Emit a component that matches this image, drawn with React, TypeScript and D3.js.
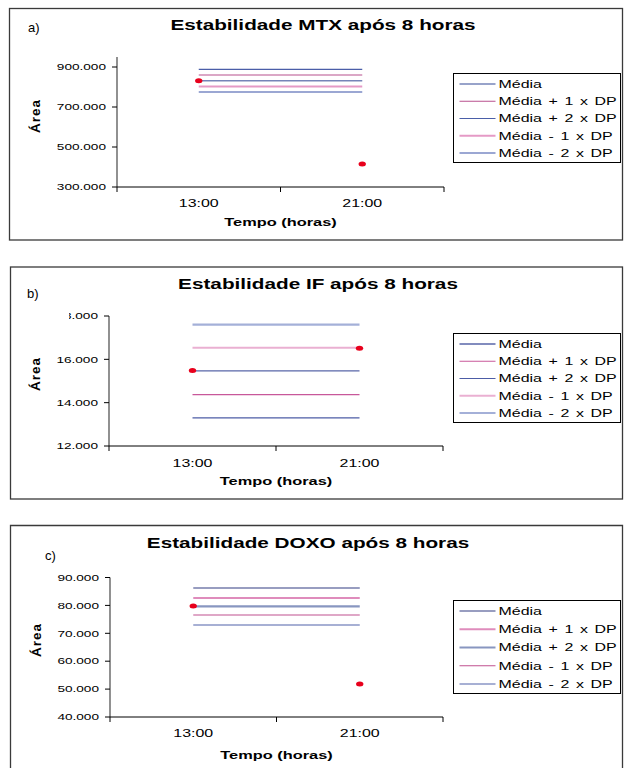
import React from 'react';
import * as d3 from 'd3';

// ---------- data ----------
const categories = ['13:00', '21:00'];
const seriesNames = ['Média', 'Média + 1 x DP', 'Média + 2 x DP', 'Média - 1 x DP', 'Média - 2 x DP'];

const mtxTitle = 'Estabilidade MTX após 8 horas';
const mtxLevels = [831500, 860000, 888500, 803000, 775000];
const mtxPoints = [831000, 415000];
const mtxTicks = [300000, 500000, 700000, 900000];
const mtxDomain = [300000, 950000];

const ifTitle = 'Estabilidade IF após 8 horas';
const ifLevels = [15470, 14370, 13300, 16540, 17600];
const ifPoints = [15490, 16510];
const ifTicks = [12000, 14000, 16000, 18000];
const ifDomain = [12000, 18000];

const doxoTitle = 'Estabilidade DOXO após 8 horas';
const doxoLevels = [86240, 82650, 79640, 76560, 72980];
const doxoPoints = [79780, 51830];
const doxoTicks = [40000, 50000, 60000, 70000, 80000, 90000];
const doxoDomain = [40000, 90000];

// ---------- styles / layout ----------
const mtxColors = ['#7684b8', '#b8508e', '#4a5ea8', '#e59ac6', '#7a8ac4'];
const mtxWidths = [1.5, 1.2, 1.2, 2, 1.6];
const ifColors = ['#5866a8', '#c8589a', '#4c5ca6', '#eab0d2', '#a4b0d8'];
const ifWidths = [1.3, 1.2, 1.2, 2, 2.2];
const doxoColors = ['#333d82', '#df8cbc', '#8896c0', '#c0508f', '#5062aa'];
const doxoWidths = [1.2, 1.8, 2.2, 1.2, 1.2];

const loc = d3.formatLocale({ decimal: ',', thousands: '.', grouping: [3], currency: ['', ''] });
const fmt = loc.format(',');

const SX = 1.45;
const FONT = '"Liberation Sans", Arial, Helvetica, sans-serif';

function SText(props: any) {
  const { x, y, size, weight, anchor, children, ws } = props;
  return (
    <g transform={`translate(${x},${y}) scale(${SX},1)`}>
      <text
        textAnchor={anchor || 'start'}
        fontSize={size}
        fontWeight={weight || 'normal'}
        dy="0.35em"
        fill="#000"
        style={{ wordSpacing: ws || 0, whiteSpace: 'pre' }}
      >
        {children}
      </text>
    </g>
  );
}

const panels = [
  {
    id: 'a', label: 'a)', title: mtxTitle, levels: mtxLevels, points: mtxPoints, ticks: mtxTicks, domain: mtxDomain,
    colors: mtxColors, widths: mtxWidths,
    box: { x: 9, y: 8, w: 613, h: 231.5, bottom: true },
    titleX: 323, titleY: 25, labX: 28, labY: 27,
    ax: 117, axR: 444, yTop: 57, yBot: 187,
    catY: 203, xTitleY: 222, yTitleX: 35, yTitleY: 116,
    leg: { x: 453.5, y: 73.5, w: 167, h: 89 },
    clipTop: 0,
  },
  {
    id: 'b', label: 'b)', title: ifTitle, levels: ifLevels, points: ifPoints, ticks: ifTicks, domain: ifDomain,
    colors: ifColors, widths: ifWidths,
    box: { x: 10, y: 266.5, w: 612, h: 232, bottom: true },
    titleX: 318, titleY: 284, labX: 27, labY: 293,
    ax: 109, axR: 443, yTop: 316, yBot: 446,
    catY: 463, xTitleY: 481, yTitleX: 35, yTitleY: 374,
    leg: { x: 453.5, y: 333.5, w: 167, h: 89 },
    clipTop: 69,
  },
  {
    id: 'c', label: 'c)', title: doxoTitle, levels: doxoLevels, points: doxoPoints, ticks: doxoTicks, domain: doxoDomain,
    colors: doxoColors, widths: doxoWidths,
    box: { x: 10, y: 525, w: 612, h: 300, bottom: false },
    titleX: 308, titleY: 543, labX: 45, labY: 555,
    ax: 110, axR: 443, yTop: 577.5, yBot: 717,
    catY: 733, xTitleY: 755, yTitleX: 36, yTitleY: 640,
    leg: { x: 453.5, y: 600.5, w: 167, h: 93 },
    clipTop: 0,
  },
];

function Panel({ p }: any) {
  const y = d3.scaleLinear().domain(p.domain).range([p.yBot, p.yTop]);
  const x = d3.scaleBand().domain(categories).range([p.ax, p.axR]).paddingInner(0).paddingOuter(0);
  const cx = (c: string) => (x(c) as number) + x.bandwidth() / 2;
  const x0 = cx(categories[0]);
  const x1 = cx(categories[categories.length - 1]);
  const xTicks = [p.ax, ...categories.slice(1).map((c) => x(c) as number), p.axR];
  const line = d3.line<[number, number]>().x((d) => d[0]).y((d) => d[1]);
  const b = p.box;
  const rowH = (p.leg.h - 20) / 4;
  const topTick = p.ticks[p.ticks.length - 1];
  return (
    <g>
      {b.bottom ? (
        <rect x={b.x + 0.5} y={b.y + 0.5} width={b.w} height={b.h} fill="none" stroke="#3a3a3a" strokeWidth={1.3} />
      ) : (
        <path d={`M${b.x + 0.5},${b.y + b.h} V${b.y + 0.5} H${b.x + b.w + 0.5} V${b.y + b.h}`} fill="none" stroke="#3a3a3a" strokeWidth={1.3} />
      )}
      <text x={p.labX} y={p.labY} dy="0.35em" fontSize={13} fontFamily={'"Liberation Sans Narrow", "Liberation Sans", Arial'}>{p.label}</text>
      <SText x={p.titleX} y={p.titleY} size={14.3} weight="bold" anchor="middle">{p.title}</SText>

      {/* y axis */}
      <defs>
        <clipPath id={`clip-${p.id}`}>
          <rect x={p.clipTop} y={0} width={700} height={800} />
        </clipPath>
      </defs>
      <line x1={p.ax} x2={p.ax} y1={p.yTop} y2={p.yBot} stroke="#555" strokeWidth={1.3} />
      {p.ticks.map((t: number) => (
        <g key={t}>
          <line x1={p.ax - 5} x2={p.ax} y1={y(t)} y2={y(t)} stroke="#000" strokeWidth={1} />
          <g clipPath={t === topTick && p.clipTop ? `url(#clip-${p.id})` : undefined}>
            <SText x={p.ax - 11} y={y(t)} size={9.4} anchor="end">{fmt(t)}</SText>
          </g>
        </g>
      ))}
      {/* x axis */}
      <line x1={p.ax} x2={p.axR} y1={p.yBot} y2={p.yBot} stroke="#000" strokeWidth={1} />
      {xTicks.map((t: number, i: number) => (
        <line key={i} x1={t} x2={t} y1={p.yBot} y2={p.yBot + 5} stroke="#000" strokeWidth={1} />
      ))}
      {categories.map((c) => (
        <SText key={c} x={cx(c)} y={p.catY} size={11} anchor="middle">{c}</SText>
      ))}
      <SText x={(p.ax + p.axR) / 2} y={p.xTitleY} size={11.3} weight="bold" anchor="middle">Tempo (horas)</SText>
      <text
        transform={`translate(${p.yTitleX},${p.yTitleY}) rotate(-90)`}
        textAnchor="middle" dy="0.35em" fontSize={13.5} fontWeight="bold" letterSpacing={1}
      >Área</text>

      {/* reference levels */}
      {p.levels.map((v: number, i: number) => (
        <path key={i} d={line([[x0, y(v)], [x1, y(v)]]) as string} stroke={p.colors[i]} strokeWidth={p.widths[i]} fill="none" />
      ))}
      {/* measured points */}
      {p.points.map((v: number, i: number) => (
        <ellipse key={i} cx={cx(categories[i])} cy={y(v)} rx={3.7} ry={2.5} fill="#e8001c" />
      ))}

      {/* legend */}
      <rect x={p.leg.x} y={p.leg.y} width={p.leg.w} height={p.leg.h} fill="#fff" stroke="#000" strokeWidth={1} />
      {seriesNames.map((s, i) => {
        const ly = p.leg.y + 10.5 + i * rowH;
        return (
          <g key={s}>
            <line x1={p.leg.x + 6} x2={p.leg.x + 42} y1={ly} y2={ly} stroke={p.colors[i]} strokeWidth={p.widths[i]} />
            <SText x={p.leg.x + 45} y={ly} size={11} ws={1.5}>{s}</SText>
          </g>
        );
      })}
    </g>
  );
}

export default function App() {
  return (
    <svg
      width={624}
      height={768}
      style={{ position: 'absolute', left: 0, top: 0, background: '#fff' }}
      fontFamily={FONT}
    >
      <rect x={0} y={0} width={624} height={768} fill="#fff" />
      {panels.map((p) => (
        <Panel key={p.id} p={p} />
      ))}
    </svg>
  );
}
